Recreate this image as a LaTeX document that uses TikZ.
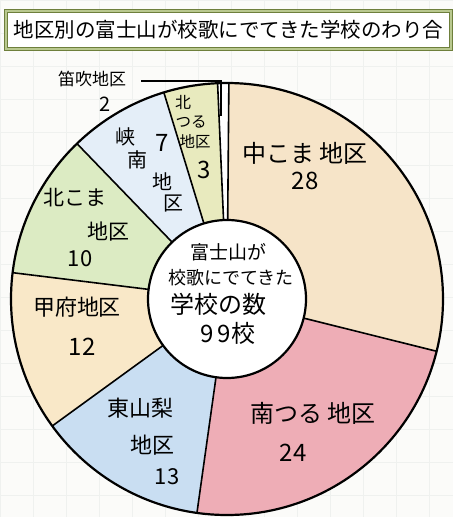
\documentclass[tikz,border=0pt]{standalone}
\usepackage{fontspec}
\setmainfont{Noto Sans CJK JP}
\usetikzlibrary{calc}
\definecolor{bgc}{HTML}{FBFBF9}
\definecolor{gridc}{HTML}{EFF1EF}
\definecolor{boxc}{HTML}{6E7F3C}
\definecolor{boxin}{HTML}{B9C88F}
\definecolor{nakakoma}{HTML}{F6E4C8}
\definecolor{minami}{HTML}{EEADB6}
\definecolor{higashi}{HTML}{C9DEF2}
\definecolor{kofu}{HTML}{F9E8C8}
\definecolor{kitakoma}{HTML}{DCEBC3}
\definecolor{kyonan}{HTML}{E4EEF8}
\definecolor{kitatsuru}{HTML}{E8EABE}
\newcommand\ringseg[3]{\fill[#1] ($(C)+(#2:216)$) arc[start angle=#2,end angle=#3,radius=216] -- ($(C)+(#3:79)$) arc[start angle=#3,end angle=#2,radius=79] -- cycle;}
\newcommand\fsz[1]{\fontsize{#1}{#1}\selectfont}
\begin{document}
\begin{tikzpicture}[x=1pt,y=1pt,
  lbl/.style={inner sep=0pt, align=center, text=black},
  sepline/.style={line width=1.6pt, black},
  ring/.style={line width=2.2pt, black},
  leader/.style={line width=1.2pt, black}]
\useasboundingbox (0,0) rectangle (453,-517);
\fill[bgc] (0,0) rectangle (453,-517);
\draw[gridc, line width=0.5pt, step=33pt] (0,0) grid (453,-517);
% title
\node[draw=boxc, double=boxin, double distance=1.4pt, line width=0.9pt, fill=white,
  minimum width=445pt, minimum height=38pt, inner sep=0pt, font=\fsz{20.5}] (title) at (228.5,-30)
  {地区別の富士山が校歌にでてきた学校のわり合};
% ring
\coordinate (C) at (227,-299);
\ringseg{nakakoma}{89.5}{-14}
\ringseg{minami}{-14}{-98}
\ringseg{higashi}{-98}{-144}
\ringseg{kofu}{-144}{-187}
\ringseg{kitakoma}{173}{134}
\ringseg{kyonan}{134}{107}
\ringseg{kitatsuru}{107}{92.5}
\ringseg{white}{92.5}{89.5}
\foreach \a in {89.5,-14,-98,-144,173,134,107,92.5}
  \draw[sepline] ($(C)+(\a:79)$) -- ($(C)+(\a:216)$);
\draw[ring] (C) circle[radius=216];
\draw[ring, fill=white] (C) circle[radius=79];
% center text
\node[lbl, font=\fsz{19}] (c1) at (228,-252) {富士山が};
\node[lbl, font=\fsz{18}] (c2) at (231,-278) {校歌にでてきた};
\node[lbl, font=\fsz{24}] (c3) at (218,-304) {学校の数};
\node[lbl, font=\fsz{24}] (c4) at (228,-333) {9\,9校};
% labels
\node[lbl, font=\fsz{24}] (naka) at (305,-166) {中こま 地区\\[3pt]28};
\node[lbl, font=\fsz{24}] (minl) at (313,-413) {南つる 地区};
\node[lbl, font=\fsz{24}] (minn) at (293,-453) {24};
\node[lbl, font=\fsz{22}] (hig1) at (140,-408) {東山梨};
\node[lbl, font=\fsz{22}] (hig2) at (152,-445) {地区};
\node[lbl, font=\fsz{22}] (hig3) at (167,-477) {13};
\node[lbl, font=\fsz{22}] (kof1) at (77,-307) {甲府地区};
\node[lbl, font=\fsz{24}] (kof2) at (82,-347) {12};
\node[lbl, font=\fsz{21}] (kk1) at (75,-198) {北こま};
\node[lbl, font=\fsz{21}] (kk2) at (108,-232) {地区};
\node[lbl, font=\fsz{22}] (kk3) at (80,-259) {10};
\node[lbl, font=\fsz{20}] (ky1) at (125,-137) {峡};
\node[lbl, font=\fsz{20}] (ky2) at (137,-160) {南};
\node[lbl, font=\fsz{20}] (ky3) at (162,-182) {地};
\node[lbl, font=\fsz{20}] (ky4) at (173,-204) {区};
\node[lbl, font=\fsz{24}] (ky5) at (162,-143) {7};
\node[lbl, font=\fsz{16}] (kt1) at (183,-102) {北};
\node[lbl, font=\fsz{15.5}] (kt2) at (191,-122) {つる};
\node[lbl, font=\fsz{15.5}] (kt3) at (195,-142) {地区};
\node[lbl, font=\fsz{24}] (kt4) at (204,-170) {3};
\node[lbl, font=\fsz{17}] (fue) at (92,-79) {笛吹地区};
\node[lbl, font=\fsz{20}] (fuen) at (105,-104) {2};
\coordinate (fuept) at (221,-116);
\draw[leader] ($(fue.east)+(15,-2)$) -| (fuept);
\end{tikzpicture}
\end{document}
